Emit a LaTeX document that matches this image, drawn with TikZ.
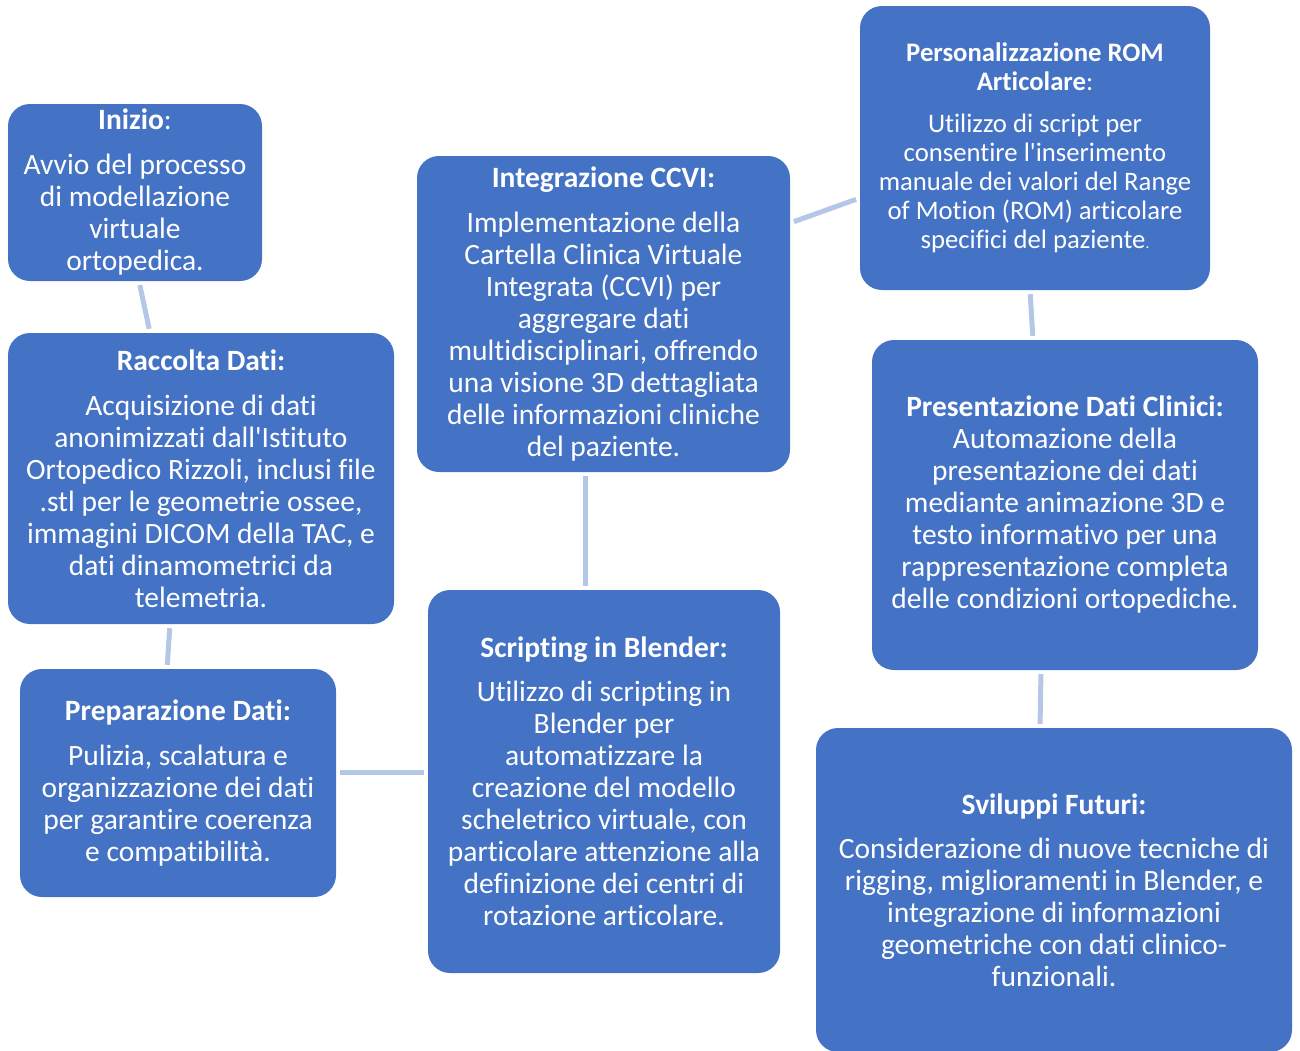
\documentclass[tikz,border=0pt]{standalone}
\usepackage{fontspec}
\setmainfont{Carlito}[Ligatures={CommonOff,ContextualOff}]
\definecolor{phaseblue}{HTML}{4472C4}
\definecolor{linkblue}{HTML}{B4C7E7}
\tikzset{
  phase/.style={rectangle, rounded corners=22pt, fill=phaseblue, text=white, align=center, inner sep=0pt, font=\fontsize{29.5}{32}\selectfont},
  phasesmall/.style={phase, font=\fontsize{26.7}{29}\selectfont},
  link/.style={draw=linkblue, line width=5pt, shorten <=4pt, shorten >=4pt},
}
\newcommand{\phasehead}[1]{\textbf{#1}}

\begin{document}
\begin{tikzpicture}[x=1pt, y=-1pt]
\useasboundingbox (0,0) rectangle (1300,1050);
\node[phase, minimum width=254pt, minimum height=177pt] (inizio) at (135,192.5)
  {\phasehead{Inizio}:\\[13pt]Avvio del processo\\di modellazione\\virtuale\\ortopedica.};
\node[phase, minimum width=386pt, minimum height=291pt] (raccolta) at (201,478.5)
  {\phasehead{Raccolta Dati:}\\[13pt]Acquisizione di dati\\anonimizzati dall\textquotesingle Istituto\\Ortopedico Rizzoli, inclusi file\\.stl per le geometrie ossee,\\immagini DICOM della TAC, e\\dati dinamometrici da\\telemetria.};
\node[phase, minimum width=316pt, minimum height=228pt] (preparazione) at (178,783)
  {\phasehead{Preparazione Dati:}\\[13pt]Pulizia, scalatura e\\organizzazione dei dati\\per garantire coerenza\\e compatibilità.};
\node[phase, minimum width=352pt, minimum height=383pt] (scripting) at (604,781.5)
  {\phasehead{Scripting in Blender:}\\[12pt]Utilizzo di scripting in\\Blender per\\automatizzare la\\creazione del modello\\scheletrico virtuale, con\\particolare attenzione alla\\definizione dei centri di\\rotazione articolare.};
\node[phase, minimum width=373pt, minimum height=316pt] (integrazione) at (603.5,314)
  {\phasehead{Integrazione CCVI:}\\[13pt]Implementazione della\\Cartella Clinica Virtuale\\Integrata (CCVI) per\\aggregare dati\\multidisciplinari, offrendo\\una visione 3D dettagliata\\delle informazioni cliniche\\del paziente.};
\node[phasesmall, minimum width=350pt, minimum height=284pt] (personalizzazione) at (1035,148)
  {\phasehead{Personalizzazione ROM}\\\phasehead{Articolare}:\\[13pt]Utilizzo di script per\\consentire l\textquotesingle inserimento\\manuale dei valori del Range\\of Motion (ROM) articolare\\specifici del paziente{\fontsize{15}{29}\selectfont.}};
\node[phase, minimum width=386pt, minimum height=330pt] (presentazione) at (1065,505)
  {\phasehead{Presentazione Dati Clinici:}\\Automazione della\\presentazione dei dati\\mediante animazione 3D e\\testo informativo per una\\rappresentazione completa\\delle condizioni ortopediche.};
\node[phase, minimum width=476pt, minimum height=324pt] (sviluppi) at (1054,890)
  {\phasehead{Sviluppi Futuri:}\\[12pt]Considerazione di nuove tecniche di\\rigging, miglioramenti in Blender, e\\integrazione di informazioni\\geometriche con dati clinico-\\funzionali.};
% connectors
\draw[link] ([xshift=4pt]inizio.south) -- ([xshift=-51pt]raccolta.north);
\draw[link] ([xshift=-31pt]raccolta.south) -- ([xshift=-11pt]preparazione.north);
\draw[link] ([yshift=11pt]preparazione.east) -- ([yshift=9.5pt]scripting.west);
\draw[link] ([xshift=-19pt]scripting.north) -- ([xshift=-18.5pt]integrazione.south);
\draw[link] ([yshift=91pt]integrazione.east) -- ([yshift=-50pt]personalizzazione.west);
\draw[link] ([xshift=-5pt]personalizzazione.south) -- ([xshift=-32pt]presentazione.north);
\draw[link] ([xshift=-24pt]presentazione.south) -- ([xshift=-14pt]sviluppi.north);
\end{tikzpicture}
\end{document}
